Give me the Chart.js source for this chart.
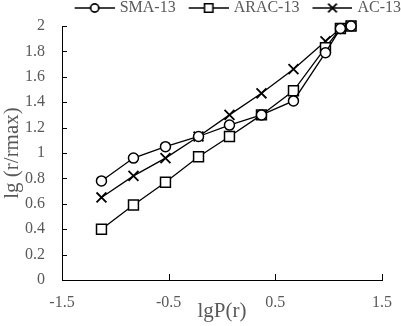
<!DOCTYPE html>
<html>
<head>
<meta charset="utf-8">
<script src="https://cdn.jsdelivr.net/npm/chart.js@4.4.0/dist/chart.umd.min.js"></script>
<style>
  html, body { margin: 0; padding: 0; background: #fff; }
  #wrap { width: 401px; height: 326px; }
</style>
</head>
<body>
<div id="wrap"><canvas id="lgChart" width="401" height="326"></canvas></div>
<script>
  // values
  const xValues = [-1.13, -0.83, -0.53, -0.22, 0.07, 0.37, 0.67, 0.97, 1.11, 1.21];
  const sma13 = [0.78, 0.96, 1.05, 1.13, 1.22, 1.30, 1.41, 1.79, 1.98, 2.00];
  const arac13 = [0.40, 0.59, 0.77, 0.97, 1.13, 1.30, 1.49, 1.83, 1.98, 2.00];
  const ac13 = [0.65, 0.82, 0.96, 1.13, 1.30, 1.47, 1.66, 1.88, 1.98, 2.00];
  const seriesNames = ['SMA-13', 'ARAC-13', 'AC-13'];
  const xTicks = [-1.5, -0.5, 0.5, 1.5];
  const yTicks = [0, 0.2, 0.4, 0.6, 0.8, 1, 1.2, 1.4, 1.6, 1.8, 2];

  const FONT = "'Liberation Serif', 'Times New Roman', serif";
  const GREY = '#595959';

  function toPoints(ys) {
    return xValues.map((x, i) => ({ x: x, y: ys[i] }));
  }

  // small picture of "line + marker" for the legend
  function legendIcon(style, radius) {
    const c = document.createElement('canvas');
    c.width = 56;
    c.height = 14;
    const g = c.getContext('2d');
    g.strokeStyle = '#000';
    g.lineWidth = 1.3;
    g.beginPath();
    g.moveTo(16, 7);
    g.lineTo(56, 7);
    g.stroke();
    Chart.helpers.drawPoint(g, { pointStyle: style, radius: radius, rotation: 0, borderWidth: 1.6 }, 36, 7);
    g.fillStyle = '#fff';
    g.lineWidth = 1.6;
    g.fill();
    g.stroke();
    return c;
  }

  // tick marks that point into the plot
  const innerTicks = {
    id: 'innerTicks',
    afterDraw(chart) {
      const c = chart.ctx;
      const xs = chart.scales.x;
      const ys = chart.scales.y;
      const area = chart.chartArea;
      c.save();
      c.strokeStyle = '#000';
      c.lineWidth = 1;
      c.beginPath();
      yTicks.forEach(v => {
        const py = Math.round(ys.getPixelForValue(v)) + 0.5;
        c.moveTo(area.left, py);
        c.lineTo(area.left + 5, py);
      });
      xTicks.forEach(v => {
        const px = Math.round(xs.getPixelForValue(v)) + 0.5;
        c.moveTo(px, area.bottom);
        c.lineTo(px, area.bottom - 6);
      });
      c.stroke();
      c.restore();
    }
  };

  const styles = ['circle', 'rect', 'crossRot'];
  const radii = [5, 7, 7];

  const ctx = document.getElementById('lgChart').getContext('2d');
  const lgChart = new Chart(ctx, {
    type: 'scatter',
    data: {
      datasets: [sma13, arac13, ac13].map((ys, i) => ({
        label: seriesNames[i],
        data: toPoints(ys),
        showLine: true,
        borderColor: '#000',
        borderWidth: 1.3,
        pointStyle: styles[i],
        pointRadius: radii[i],
        pointHoverRadius: radii[i],
        pointBackgroundColor: '#fff',
        pointBorderColor: '#000',
        pointBorderWidth: i === 2 ? 1.8 : 1.5,
        clip: false
      }))
    },
    options: {
      responsive: false,
      animation: false,
      events: [],
      layout: { padding: 0 },
      plugins: {
        tooltip: { enabled: false },
        legend: {
          position: 'top',
          align: 'end',
          labels: {
            usePointStyle: true,
            pointStyleWidth: 50,
            padding: 0,
            color: GREY,
            font: { family: FONT, size: 16 },
            generateLabels: chart => chart.data.datasets.map((ds, i) => ({
              text: ds.label,
              fontColor: GREY,
              pointStyle: legendIcon(styles[i], radii[i] - 1),
              datasetIndex: i,
              lineWidth: 0,
              hidden: false
            }))
          }
        }
      },
      scales: {
        x: {
          type: 'linear',
          min: -1.5,
          max: 1.5,
          afterBuildTicks: s => { s.ticks = xTicks.map(v => ({ value: v })); },
          afterFit: s => { s.height = 46; s.paddingRight = 19; },
          grid: { display: false, drawTicks: false },
          border: { display: true, color: '#000', width: 1 },
          ticks: {
            padding: 13,
            color: GREY,
            font: { family: FONT, size: 16 },
            callback: v => String(v)
          },
          title: {
            display: true,
            text: 'lgP(r)',
            color: GREY,
            padding: { top: 0, bottom: 2 },
            font: { family: FONT, size: 21 }
          }
        },
        y: {
          min: 0,
          max: 2,
          afterBuildTicks: s => { s.ticks = yTicks.map(v => ({ value: v })); },
          afterFit: s => { s.width = 62; s.paddingTop = 25; },
          grid: { display: false, drawTicks: false },
          border: { display: true, color: '#000', width: 1 },
          ticks: {
            padding: 17,
            color: GREY,
            font: { family: FONT, size: 16 },
            callback: v => String(Math.round(v * 10) / 10)
          },
          title: {
            display: true,
            text: 'lg (r/rmax)',
            color: GREY,
            padding: 0,
            font: { family: FONT, size: 21 }
          }
        }
      }
    },
    plugins: [innerTicks]
  });
</script>
</body>
</html>
